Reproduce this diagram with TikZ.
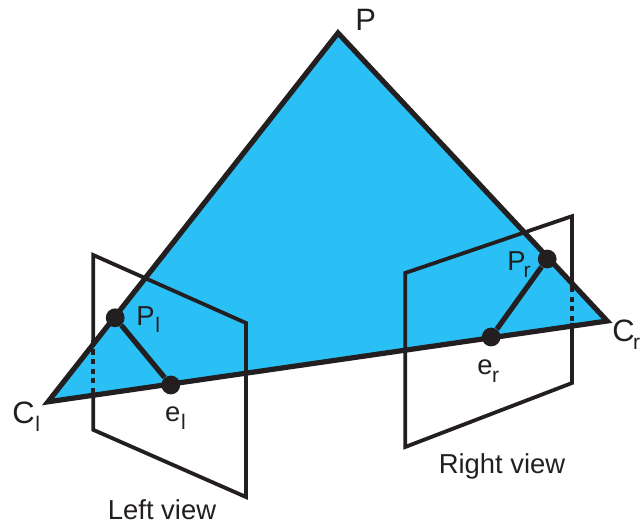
\documentclass[tikz,border=0pt]{standalone}
\usepackage{fontspec}
\setmainfont{Liberation Sans}
\definecolor{planecyan}{HTML}{2BC0F5}
\definecolor{inkblack}{HTML}{231F20}
\newcommand{\lowsub}[2][0.5pt]{\kern#1\raisebox{-5.5pt}{\fontsize{15}{15}\selectfont #2}}
\tikzset{
    rayline/.style={draw=inkblack, line width=1.3mm, line join=miter},
    viewline/.style={draw=inkblack, line width=0.95mm, line join=miter},
    dotline/.style={draw=inkblack, line width=0.95mm, dash pattern=on 1.3mm off 1.1mm},
    epipoint/.style={circle, fill=inkblack, inner sep=0pt, minimum size=4.7mm},
    lbl/.style={text=inkblack, font=\fontsize{19.5}{22}\selectfont, inner sep=0pt},
    biglbl/.style={text=inkblack, font=\fontsize{22}{24}\selectfont, inner sep=0pt},
}
\begin{document}
\begin{tikzpicture}
    \useasboundingbox (0,0) rectangle (16.1,13.125);

    \coordinate (P) at (8.45,12.3);
    \coordinate (Cl) at (1.2,3.08);
    \coordinate (Cr) at (15.18,5.1);

    % left view corners
    \coordinate (lefttl) at (2.33,6.75);
    \coordinate (lefttr) at (6.15,5.05);
    \coordinate (leftbr) at (6.15,0.7);
    \coordinate (leftbl) at (2.33,2.38);
    \coordinate (leftmida) at (2.33,4.63);
    \coordinate (leftmidb) at (2.33,3.25);

    % right view corners
    \coordinate (righttl) at (10.13,6.3);
    \coordinate (righttr) at (14.3,7.72);
    \coordinate (rightbr) at (14.3,3.55);
    \coordinate (rightbl) at (10.13,1.95);
    \coordinate (rightmida) at (14.3,5.95);
    \coordinate (rightmidb) at (14.3,5.05);

    \fill[planecyan] (P) -- (Cr) -- (Cl) -- cycle;

    \draw[viewline] (leftmida) -- (lefttl) -- (lefttr) -- (leftbr) -- (leftbl) -- (leftmidb);
    \draw[dotline] (leftmida) -- (leftmidb);
    \draw[viewline] (rightmida) -- (righttr) -- (righttl) -- (rightbl) -- (rightbr) -- (rightmidb);
    \draw[dotline] (rightmida) -- (rightmidb);

    \draw[rayline] (P) -- (Cr) -- (Cl) -- cycle;

    \node[epipoint] (pl) at (2.88,5.18) {};
    \node[epipoint] (el) at (4.27,3.5) {};
    \node[epipoint] (pr) at (13.68,6.65) {};
    \node[epipoint] (er) at (12.28,4.7) {};
    \draw[rayline] (pl) -- (el);
    \draw[rayline] (pr) -- (er);

    \node[biglbl, anchor=base west] (ptop) at (8.88,12.35) {P};
    \node[biglbl, anchor=base west] (cleft) at (0.3,2.53) {C\lowsub{l}};
    \node[biglbl, anchor=base west] (cright) at (15.3,4.58) {C\lowsub[-1pt]{r}};
    \node[lbl, anchor=base west] (plabel) at (3.4,5.0) {P\lowsub{l}};
    \node[lbl, anchor=base west] (elabel) at (4.12,2.58) {e\lowsub{l}};
    \node[lbl, anchor=base west] (prlabel) at (12.68,6.37) {P\lowsub[-1.5pt]{r}};
    \node[lbl, anchor=base west] (erlabel) at (11.93,3.75) {e\lowsub[-0.5pt]{r}};
    \node[lbl] (leftname) at (4.05,0.38) {Left view};
    \node[lbl] (rightname) at (12.55,1.47) {Right view};
\end{tikzpicture}
\end{document}
